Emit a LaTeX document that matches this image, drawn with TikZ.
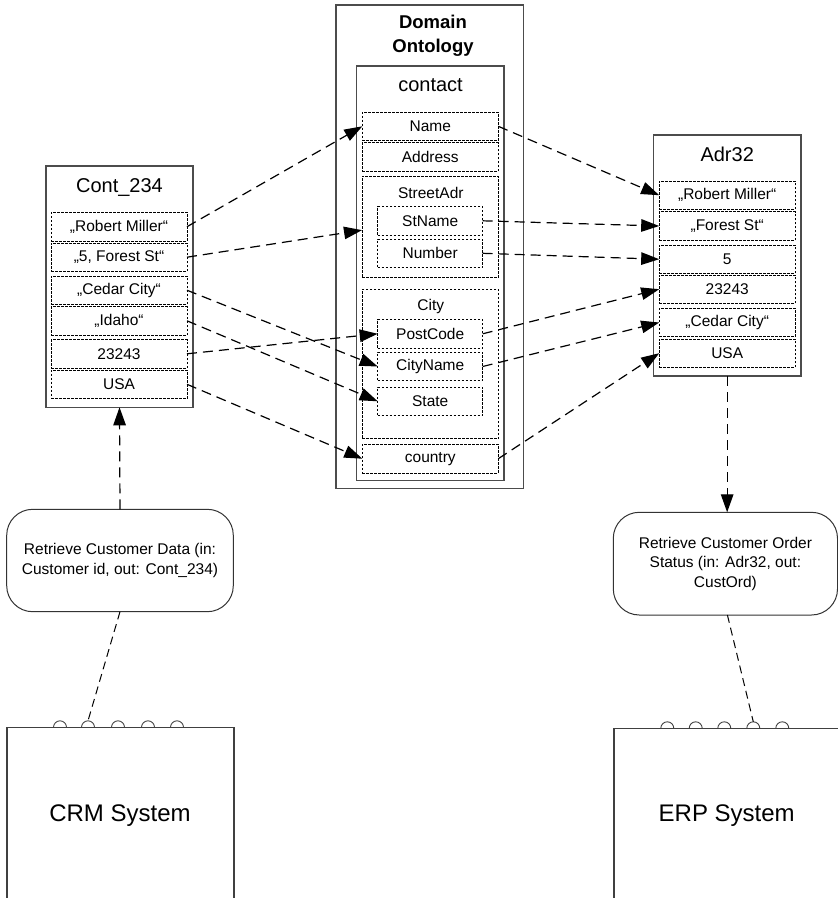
\documentclass[tikz,border=0pt]{standalone}
\usepackage{fontspec}
\setmainfont{Liberation Sans}
\usetikzlibrary{arrows.meta}
\begin{document}
\begin{tikzpicture}[x=1pt,y=-1pt,
  every node/.style={inner sep=0pt, outer sep=0pt},
  rowbox/.style={draw, line width=0.8pt, dash pattern=on 2.5pt off 1.5pt, minimum width=136pt, minimum height=28.5pt, font=\fontsize{15.5}{18}\selectfont},
  subrow/.style={rowbox, minimum width=105pt},
  frame/.style={draw=black!70, line width=1.1pt},
  grp/.style={draw, line width=0.8pt, dash pattern=on 2.5pt off 1.5pt},
  ttl/.style={anchor=base, font=\fontsize{20}{24}\selectfont},
  sublbl/.style={anchor=base, font=\fontsize{15.5}{18}\selectfont},
  conn/.style={line width=1.2pt, dash pattern=on 10pt off 6pt, -{Triangle[length=18pt,width=12.5pt]}},
  link/.style={line width=1pt, dash pattern=on 8pt off 5pt},
  svc/.style={draw=black!80, line width=1pt, rounded corners=26pt, align=center, font=\fontsize{15.5}{19.5}\selectfont},
  sys/.style={draw=black!75, line width=1.1pt},
]
\useasboundingbox (0,0) rectangle (838,898);

% ---------- Cont_234 ----------
\node[frame, minimum width=147pt, minimum height=241.3pt] (cont) at (119.5,286.65) {};
\node[ttl] (conttitle) at (119.5,192.7) {Cont\_234};
\node[rowbox] (c1) at (119,226.7) {„Robert Miller“};
\node[rowbox] (c2) at (119,257.2) {„5, Forest St“};
\node[rowbox] (c3) at (119,290.2) {„Cedar City“};
\node[rowbox] (c4) at (119,320.8) {„Idaho“};
\node[rowbox] (c5) at (119,353.8) {23243};
\node[rowbox] (c6) at (119,384.3) {USA};

% ---------- Domain Ontology ----------
\node[frame, minimum width=187.5pt, minimum height=483.7pt] (dom) at (429.75,246.85) {};
\node[anchor=base, align=center, font=\bfseries\fontsize{18.5}{24.4}\selectfont] (domtitle) at (433,52.7) {Domain\\Ontology};
\node[frame, minimum width=147.3pt, minimum height=414.7pt] (contact) at (430.35,273.35) {};
\node[ttl] (contacttitle) at (430.5,91.7) {contact};
\node[rowbox] (name) at (430.3,126.3) {Name};
\node[rowbox] (address) at (430.3,157) {Address};
\node[grp, minimum width=136.3pt, minimum height=101.3pt] (street) at (430.15,226.65) {};
\node[sublbl] (streetlbl) at (430.8,198.3) {StreetAdr};
\node[subrow] (stname) at (430.2,220.8) {StName};
\node[subrow] (number) at (430.2,253.3) {Number};
\node[grp, minimum width=136.3pt, minimum height=149.4pt] (city) at (430.15,364) {};
\node[sublbl] (citylbl) at (430.8,310.7) {City};
\node[subrow] (postcode) at (430.2,333.8) {PostCode};
\node[subrow] (cityname) at (430.2,366.5) {CityName};
\node[subrow] (state) at (430.2,401.3) {State};
\node[rowbox] (country) at (430.3,458.7) {country};

% ---------- Adr32 ----------
\node[frame, minimum width=147.7pt, minimum height=241pt] (adr) at (727.15,255.5) {};
\node[ttl] (adrtitle) at (727.2,161) {Adr32};
\node[rowbox] (a1) at (727.2,195.2) {„Robert Miller“};
\node[rowbox] (a2) at (727.2,226) {„Forest St“};
\node[rowbox] (a3) at (727.2,259.2) {5};
\node[rowbox] (a4) at (727.2,289.2) {23243};
\node[rowbox] (a5) at (727.2,322.5) {„Cedar City“};
\node[rowbox] (a6) at (727.2,353.2) {USA};

% ---------- mappings ----------
\draw[conn] (c1.east) -- (name.west);
\draw[conn] (c2.east) -- ([yshift=-3.5pt]street.west);
\draw[conn] (c3.east) -- (cityname.west);
\draw[conn] (c4.east) -- (state.west);
\draw[conn] (c5.east) -- (postcode.west);
\draw[conn] (c6.east) -- (country.west);
\draw[conn] (name.east) -- (a1.west);
\draw[conn] (stname.east) -- (a2.west);
\draw[conn] (number.east) -- (a3.west);
\draw[conn] (postcode.east) -- (a4.west);
\draw[conn] (cityname.east) -- (a5.west);
\draw[conn] (country.east) -- (a6.west);

% ---------- services ----------
\node[svc, minimum width=226.6pt, minimum height=102.4pt] (crmsvc) at (120,560.5) {Retrieve Customer Data (in:\\Customer id, out: Cont\_234)};
\node[svc, minimum width=224.2pt, minimum height=102.7pt] (erpsvc) at (725.4,563.65) {Retrieve Customer Order\\Status (in: Adr32, out:\\CustOrd)};

\draw[conn] (crmsvc.north) -- (cont.south);
\draw[conn] (adr.south) -- (adr.south |- erpsvc.north);

% ---------- systems ----------
\draw[sys] (7,898) -- (7,727.3) -- (234,727.3) -- (234,898);
\node[anchor=base, font=\fontsize{24}{28}\selectfont] (crmlbl) at (120,821.7) {CRM System};
\foreach \px/\nm in {60/1,88/2,118/3,148/4,177/5}{
  \draw[sys, line width=0.9pt] (\px-6.5,727.3) arc[start angle=180, end angle=0, radius=6.5pt];
  \coordinate (crmp\nm) at (\px,720.8);
}
\draw[sys] (614,898) -- (614,728.3) -- (840,728.3);
\node[anchor=base, font=\fontsize{24}{28}\selectfont] (erplbl) at (726.7,821.7) {ERP System};
\foreach \px/\nm in {667.3/1,695.7/2,724.3/3,753.3/4,782.3/5}{
  \draw[sys, line width=0.9pt] (\px-6.5,728.3) arc[start angle=180, end angle=0, radius=6.5pt];
  \coordinate (erpp\nm) at (\px,721.8);
}

\draw[link] (crmsvc.south) -- (crmp2);
\draw[link] ([xshift=2pt]erpsvc.south) -- (erpp4);
\end{tikzpicture}
\end{document}
